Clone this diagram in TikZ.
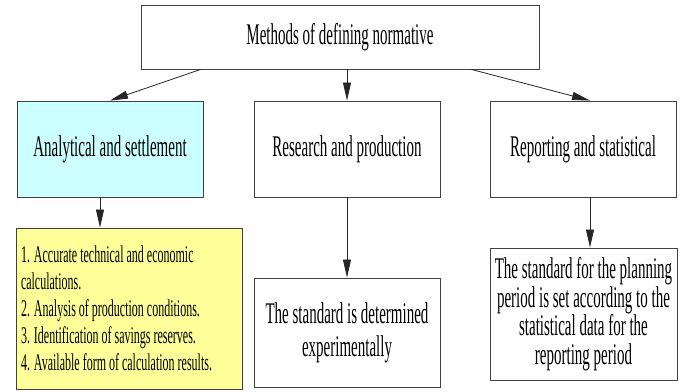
\documentclass[tikz,border=0pt]{standalone}
\usepackage{fontspec}
\setmainfont{Liberation Serif}[FakeStretch=0.5]
\usetikzlibrary{arrows.meta}
\definecolor{calcfill}{HTML}{CCFFFF}
\definecolor{listfill}{HTML}{FFFF99}

\begin{document}
\begin{tikzpicture}[x=1pt, y=-1pt, box/.style={draw=black!75, line width=0.9pt, align=center, inner sep=3pt, minimum width=186pt, font=\fontsize{30}{33}\selectfont}, arr/.style={-{Triangle[length=18pt,width=8pt]}, line width=0.8pt, black!85}]
\useasboundingbox (0,0) rectangle (688,391);
\node[box, minimum width=398pt, minimum height=64pt] (top) at (340,37) {Methods of defining normative};
\node[box, fill=calcfill, minimum height=96pt] (anal) at (110,149) {Analytical and settlement};
\node[box, minimum height=96pt] (res) at (347,149) {Research and production};
\node[box, minimum height=96pt] (rep) at (583,149) {Reporting and statistical};
\node[box, fill=listfill, align=left, inner xsep=5pt, text width=216pt, minimum height=161pt, font=\fontsize{24}{27}\selectfont] (calc) at (129,308.5) {\spaceskip=0pt \xspaceskip=0pt 1. Accurate technical and economic\\calculations.\\2. Analysis of production conditions.\\3. Identification of savings reserves.\\4. Available form of calculation results.};
\node[box, minimum height=109pt] (exper) at (347,332.5) {The standard is determined\\experimentally};
\node[box, minimum width=187pt, minimum height=132pt, font=\fontsize{30}{28.5}\selectfont] (stat) at (583.5,314) {The standard for the planning\\period is set according to the\\statistical data for the\\reporting period};
\draw[arr] ([xshift=60pt]top.south west) -- (anal.north);
\draw[arr] (top.south -| res.north) -- (res.north);
\draw[arr] ([xshift=-68pt]top.south east) -- ([xshift=7pt]rep.north);
\draw[arr] ([xshift=-10pt]anal.south) -- ([xshift=-10pt]anal.south |- calc.north);
\draw[arr] (res.south) -- (exper.north);
\draw[arr] ([xshift=7pt]rep.south) -- ([xshift=7pt]rep.south |- stat.north);
\end{tikzpicture}
\end{document}
